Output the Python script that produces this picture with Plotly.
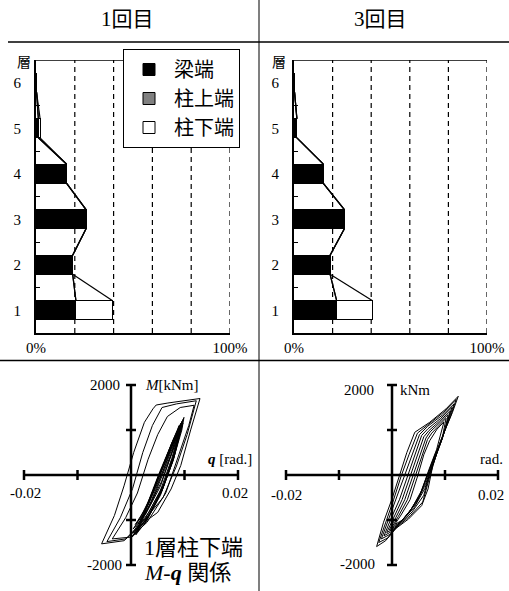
import plotly.graph_objects as go

# ---------------- data ----------------
floors = [1, 2, 3, 4, 5, 6]
floor_labels = ["1", "2", "3", "4", "5", "6"]
pct_ticks = [0, 100]
pct_labels = ["0%", "100%"]

beam_1 = [20.6, 18.9, 25.8, 15.8, 1.2, 0.3]      # 梁端
coltop_1 = [None, None, None, None, None, None]  # 柱上端
colbot_1 = [18.9, None, None, None, 0.9, None]   # 柱下端

beam_3 = [22.1, 18.7, 26.1, 15.2, 1.5, 0.3]
coltop_3 = [None, None, None, None, None, None]
colbot_3 = [18.6, None, None, None, None, None]

theta_ticks = [-0.02, -0.01, 0.01, 0.02]
m_ticks = [-2000, -1000, 1000, 2000]

# 1回目 hysteresis loops (theta [rad], M [kNm])
h1_a = [(-0.0055, -1530), (-0.0013, -1460), (0.0025, -1050), (0.005, -830), (0.0075, -310),
        (0.0093, 210), (0.0112, 1020), (0.0129, 1700), (0.0069, 1600), (0.0047, 1555),
        (0.0041, 1470), (0.0025, 1170), (0.0005, 500), (-0.0013, -240), (-0.0031, -900),
        (-0.0055, -1530)]
h1_b = [(-0.0045, -1480), (-0.001, -1420), (0.0025, -1000), (0.006, -500), (0.0085, 200),
        (0.0105, 900), (0.0122, 1650), (0.0085, 1580), (0.0058, 1500), (0.004, 1100),
        (0.0022, 500), (0.0003, -300), (-0.002, -950), (-0.0045, -1480)]
h1_c = [(-0.0035, -1420), (0.0, -1380), (0.003, -1050), (0.0065, -400), (0.0088, 400),
        (0.0108, 1100), (0.0118, 1550), (0.0092, 1500), (0.0068, 1300), (0.005, 900),
        (0.0032, 350), (0.0012, -400), (-0.001, -950), (-0.0035, -1420)]
h1_d1 = [(0.0002, -1380), (0.0025, -1100), (0.0055, -450), (0.0078, 300), (0.0095, 1000),
         (0.0099, 1280), (0.0082, 800), (0.006, 100), (0.0038, -500), (0.0015, -1100),
         (0.0002, -1380)]
h1_d2 = [(0.0006, -1320), (0.0028, -1000), (0.0058, -350), (0.008, 380), (0.0094, 1050),
         (0.0096, 1200), (0.0078, 760), (0.0057, 120), (0.0036, -520), (0.0018, -1050),
         (0.0006, -1320)]
h1_d3 = [(0.001, -1260), (0.0031, -950), (0.006, -280), (0.0081, 430), (0.0092, 1050),
         (0.0093, 1150), (0.0076, 700), (0.0055, 80), (0.0034, -560), (0.002, -1000),
         (0.001, -1260)]
h1_d4 = [(0.0004, -1200), (0.0027, -880), (0.0055, -250), (0.0075, 450), (0.009, 1100),
         (0.0074, 650), (0.0052, 20), (0.0032, -600), (0.0016, -980), (0.0004, -1200)]
h1_d5 = [(0.0013, -1150), (0.0034, -820), (0.0062, -180), (0.0082, 520), (0.0097, 1150),
         (0.008, 600), (0.0058, -20), (0.0038, -620), (0.0022, -950), (0.0013, -1150)]
h1_d6 = [(0.0008, -1100), (0.003, -780), (0.0057, -150), (0.0077, 500), (0.0089, 950),
         (0.0072, 520), (0.005, -60), (0.0033, -640), (0.0018, -900), (0.0008, -1100)]
h1_d7 = [(0.0009, -1330), (0.0029, -1020), (0.0056, -400), (0.0079, 330), (0.0093, 980),
         (0.0097, 1230), (0.008, 780), (0.0058, 110), (0.0037, -510), (0.0017, -1070),
         (0.0009, -1330)]
h1_d8 = [(0.0012, -1240), (0.0033, -900), (0.0059, -300), (0.0079, 420), (0.0091, 1000),
         (0.0077, 680), (0.0056, 60), (0.0035, -580), (0.0021, -980), (0.0012, -1240)]
h1_d9 = [(0.0003, -1290), (0.0026, -980), (0.0054, -380), (0.0076, 360), (0.0093, 1080),
         (0.0079, 720), (0.0057, 90), (0.0035, -540), (0.0016, -1040), (0.0003, -1290)]
h1_d10 = [(0.0015, -1180), (0.0036, -860), (0.0061, -230), (0.0081, 480), (0.0095, 1120),
          (0.0079, 640), (0.0057, 0), (0.0037, -600), (0.0023, -960), (0.0015, -1180)]

# 3回目 hysteresis loops
h3_r1 = [(-0.0029, -1590), (-0.0012, -1460), (0.0006, -1200), (0.0031, -980), (0.0056, -680),
         (0.0068, -310), (0.0077, 210), (0.0093, 800), (0.0114, 1390), (0.0125, 1750),
         (0.0102, 1470), (0.0071, 1170), (0.0043, 950), (0.0028, 500), (0.0015, 20),
         (0.0, -530), (-0.0016, -1050), (-0.0029, -1590)]
h3_r2 = [(-0.0025, -1500), (-0.0008, -1400), (0.001, -1150), (0.0035, -900), (0.0058, -600),
         (0.0072, 0), (0.009, 700), (0.0112, 1350), (0.0121, 1680), (0.0098, 1400),
         (0.0068, 1120), (0.0048, 930), (0.0032, 450), (0.0018, 0), (0.0003, -550),
         (-0.0012, -1050), (-0.0025, -1500)]
h3_r3 = [(-0.002, -1420), (-0.0004, -1320), (0.0015, -1080), (0.0038, -820), (0.006, -450),
         (0.0073, 100), (0.0092, 720), (0.0108, 1250), (0.0117, 1580), (0.0095, 1330),
         (0.0067, 1080), (0.0052, 900), (0.0038, 450), (0.0025, 0), (0.0008, -550),
         (-0.0008, -1050), (-0.002, -1420)]
h3_r4 = [(-0.0015, -1350), (0.0, -1250), (0.002, -1000), (0.0042, -720), (0.0062, -300),
         (0.0076, 200), (0.0093, 750), (0.0105, 1180), (0.0113, 1500), (0.0092, 1260),
         (0.0068, 1030), (0.0056, 880), (0.0043, 450), (0.003, 0), (0.0014, -550),
         (-0.0003, -1000), (-0.0015, -1350)]
h3_r5 = [(-0.001, -1280), (0.0005, -1180), (0.0025, -930), (0.0046, -620), (0.0064, -180),
         (0.0078, 300), (0.0094, 780), (0.0103, 1120), (0.011, 1420), (0.009, 1200),
         (0.007, 990), (0.006, 850), (0.0048, 450), (0.0035, 0), (0.0019, -550),
         (0.0002, -980), (-0.001, -1280)]
h3_r6 = [(-0.0005, -1220), (0.001, -1120), (0.003, -860), (0.005, -520), (0.0066, -60),
         (0.008, 400), (0.0095, 810), (0.0101, 1060), (0.0106, 1340), (0.0088, 1140),
         (0.0072, 960), (0.0064, 820), (0.0053, 450), (0.004, 0), (0.0024, -550),
         (0.0007, -950), (-0.0005, -1220)]
h3_r7 = [(0.0, -1160), (0.0015, -1060), (0.0034, -800), (0.0053, -430), (0.0068, 40),
         (0.0082, 480), (0.0095, 830), (0.0102, 1260), (0.0087, 1080), (0.0075, 930),
         (0.0067, 790), (0.0057, 450), (0.0045, 0), (0.0029, -550), (0.0012, -920),
         (0.0, -1160)]
h3_r8 = [(0.0005, -1100), (0.002, -1000), (0.0038, -730), (0.0056, -340), (0.007, 130),
         (0.0084, 560), (0.0098, 1180), (0.0085, 1020), (0.0071, 760), (0.006, 450),
         (0.0049, 0), (0.0034, -550), (0.0017, -890), (0.0005, -1100)]

loops_1 = [h1_a, h1_b, h1_c, h1_d1, h1_d2, h1_d3, h1_d4, h1_d5, h1_d6, h1_d7, h1_d8,
           h1_d9, h1_d10]
loops_3 = [h3_r1, h3_r2, h3_r3, h3_r4, h3_r5, h3_r6, h3_r7, h3_r8]

# ---------------- style ----------------
W_PX, H_PX = 509, 591
SERIF = "Liberation Serif, Times New Roman, Noto Sans CJK JP, serif"
CJK = "Noto Sans CJK JP, sans-serif"
BAR_W = 0.42


def px(x):
    return x / W_PX


def py(y):
    return 1 - y / H_PX


fig = go.Figure()


def series_lines(stacks):
    xs, ys = [], []
    cum = [0.0] * len(floors)
    for s in stacks:
        cum = [c + (v or 0) for c, v in zip(cum, s)]
        for i in range(len(floors) - 1):
            xs += [cum[i], cum[i + 1], None]
            ys += [floors[i] + BAR_W / 2, floors[i + 1] - BAR_W / 2, None]
    return xs, ys


def add_bars(beam, coltop, colbot, xa, ya, show):
    specs = [("梁端", beam, "black"), ("柱上端", coltop, "#808080"), ("柱下端", colbot, "white")]
    for name, vals, col in specs:
        fig.add_trace(go.Bar(
            y=floors, x=vals, orientation="h", name=name, width=BAR_W,
            marker=dict(color=col, line=dict(color="black", width=1)),
            xaxis=xa, yaxis=ya, showlegend=show, legendgroup=name,
            hoverinfo="skip"))
    sx, sy = series_lines([beam, coltop, colbot])
    fig.add_trace(go.Scatter(x=sx, y=sy, mode="lines", line=dict(color="black", width=1.2),
                             xaxis=xa, yaxis=ya, showlegend=False, hoverinfo="skip"))


add_bars(beam_1, coltop_1, colbot_1, "x", "y", True)
add_bars(beam_3, coltop_3, colbot_3, "x2", "y2", False)


def add_loops(loops, xa, ya):
    for lp in loops:
        fig.add_trace(go.Scatter(x=[p[0] for p in lp], y=[p[1] for p in lp], mode="lines",
                                 line=dict(color="black", width=1.0), xaxis=xa, yaxis=ya,
                                 showlegend=False, hoverinfo="skip"))


add_loops(loops_1, "x3", "y3")
add_loops(loops_3, "x4", "y4")

# ---------------- axes ----------------
bar_y_dom = [py(333), py(60)]


def bar_xaxis(dom):
    return dict(domain=dom, range=[0, 100], tickmode="array", tickvals=pct_ticks,
                ticktext=pct_labels, showgrid=False, zeroline=False, showline=True,
                linecolor="black", linewidth=2, ticks="", fixedrange=True, automargin=False,
                tickfont=dict(family=SERIF, size=15, color="black"))


def bar_yaxis(anchor):
    return dict(domain=bar_y_dom, range=[0.5, 6.5], anchor=anchor, tickmode="array",
                tickvals=floors, ticktext=floor_labels, showgrid=False, zeroline=False,
                showline=True, linecolor="black", linewidth=2, ticks="", automargin=False,
                ticklabelstandoff=10, fixedrange=True,
                tickfont=dict(family=SERIF, size=15, color="black"),
                minor=dict(tickmode="array", tickvals=[1.5, 2.5, 3.5, 4.5, 5.5],
                           ticks="inside", ticklen=4, tickwidth=1, tickcolor="black",
                           showgrid=False))


HR = 0.021
MR = 2100
hy_dom = [py(475 + 94.5), py(475 - 94.5)]
fig.update_layout(
    template="none",
    xaxis=bar_xaxis([px(36), px(230)]),
    yaxis=bar_yaxis("x"),
    xaxis2=dict(bar_xaxis([px(294), px(487)]), anchor="y2"),
    yaxis2=bar_yaxis("x2"),
    xaxis3=dict(domain=[px(131 - 112.35), px(131 + 112.35)], range=[-HR, HR], visible=False,
                anchor="y3", fixedrange=True, automargin=False),
    yaxis3=dict(domain=hy_dom, range=[-MR, MR], visible=False, anchor="x3", fixedrange=True,
                automargin=False),
    xaxis4=dict(domain=[px(392 - 111.3), px(392 + 111.3)], range=[-HR, HR], visible=False,
                anchor="y4", fixedrange=True, automargin=False),
    yaxis4=dict(domain=hy_dom, range=[-MR, MR], visible=False, anchor="x4", fixedrange=True,
                automargin=False),
)

shapes = []
# dashed grid lines and top border of bar charts
for xa, ya in (("x", "y"), ("x2", "y2")):
    for g in (20, 40, 60, 80, 100):
        shapes.append(dict(type="line", xref=xa, yref=ya, x0=g, x1=g, y0=0.5, y1=6.5,
                           line=dict(color="black", width=1.2, dash="5px,4px"), layer="below"))
    shapes.append(dict(type="line", xref=xa, yref=ya, x0=0, x1=100, y0=6.5, y1=6.5,
                       line=dict(color="black", width=1.5)))

# hysteresis axes with crossing ticks
for xa, ya in (("x3", "y3"), ("x4", "y4")):
    shapes.append(dict(type="line", xref=xa, yref=ya, x0=theta_ticks[0], x1=theta_ticks[-1],
                       y0=0, y1=0, line=dict(color="black", width=2.5)))
    shapes.append(dict(type="line", xref=xa, yref=ya, x0=0, x1=0, y0=m_ticks[0],
                       y1=m_ticks[-1], line=dict(color="black", width=2.5)))
    for t in theta_ticks:
        shapes.append(dict(type="line", xref=xa, yref=ya, x0=t, x1=t, ysizemode="pixel",
                           yanchor=0, y0=-5, y1=5, line=dict(color="black", width=2.5)))
    for m in m_ticks:
        shapes.append(dict(type="line", xref=xa, yref=ya, y0=m, y1=m, xsizemode="pixel",
                           xanchor=0, x0=-5, x1=5, line=dict(color="black", width=2.5)))

# panel dividers
shapes.append(dict(type="line", xref="paper", yref="paper", x0=px(259), x1=px(259), y0=0,
                   y1=1, line=dict(color="#555555", width=1.5)))
shapes.append(dict(type="line", xref="paper", yref="paper", x0=px(8), x1=1, y0=py(42),
                   y1=py(42), line=dict(color="black", width=1.5)))
shapes.append(dict(type="line", xref="paper", yref="paper", x0=0, x1=1, y0=py(360.5),
                   y1=py(360.5), line=dict(color="black", width=1.5)))

ann = []


def A(text, x, y, size=15, family=SERIF, xanchor="center", xref="paper", yref="paper",
      xshift=0, yshift=0, align="center"):
    ann.append(dict(text=text, x=x, y=y, xref=xref, yref=yref, showarrow=False,
                    xanchor=xanchor, yanchor="middle", xshift=xshift, yshift=yshift,
                    align=align, font=dict(family=family, size=size, color="black")))


A("1回目", px(127), py(19), size=21)
A("3回目", px(380), py(19), size=21)
A("層", px(24), py(61), size=14, family=CJK)
A("層", px(279), py(61), size=14, family=CJK)

# left hysteresis labels
A("2000", 0, 2000, xref="x3", yref="y3", xanchor="right", xshift=-9)
A("-2000", 0, -2000, xref="x3", yref="y3", xanchor="right", xshift=-7)
A("-0.02", -0.02, 0, xref="x3", yref="y3", yshift=-18, xshift=1)
A("0.02", 0.02, 0, xref="x3", yref="y3", yshift=-18, xshift=-3)
A("<i>M</i>[kNm]", 0, 2000, xref="x3", yref="y3", xanchor="left", xshift=12)
A("<b><i>q</i></b> [rad.]", 0.02, 0, xref="x3", yref="y3", xshift=-8, yshift=16)
A("1層柱下端", px(142), py(547), size=22, xanchor="left")
A("<i>M</i>-<b><i>q</i></b> 関係", px(142), py(572), size=22, xanchor="left")

# right hysteresis labels
A("2000", 0, 2000, xref="x4", yref="y4", xanchor="right", xshift=-16, yshift=-5)
A("-2000", 0, -2000, xref="x4", yref="y4", xanchor="right", xshift=-15, yshift=1)
A("-0.02", -0.02, 0, xref="x4", yref="y4", yshift=-20)
A("0.02", 0.02, 0, xref="x4", yref="y4", yshift=-20, xshift=-7)
A("kNm", 0, 2000, xref="x4", yref="y4", xanchor="left", xshift=6, yshift=-5)
A("rad.", 0.02, 0, xref="x4", yref="y4", xshift=-7, yshift=16)

fig.update_layout(
    width=W_PX, height=H_PX, margin=dict(l=0, r=0, t=0, b=0, pad=0, autoexpand=False),
    paper_bgcolor="white", plot_bgcolor="white",
    barmode="stack", bargap=0.58,
    shapes=shapes, annotations=ann,
    legend=dict(x=px(123), y=py(49), xanchor="left", yanchor="top", bgcolor="white",
                bordercolor="black", borderwidth=1, traceorder="normal", tracegroupgap=8,
                font=dict(family=CJK, size=20, color="black"), itemwidth=40),
    showlegend=True,
)

fig.write_html("out.html", post_script="document.body.style.margin='0';",
               config={"displayModeBar": False, "staticPlot": True})
